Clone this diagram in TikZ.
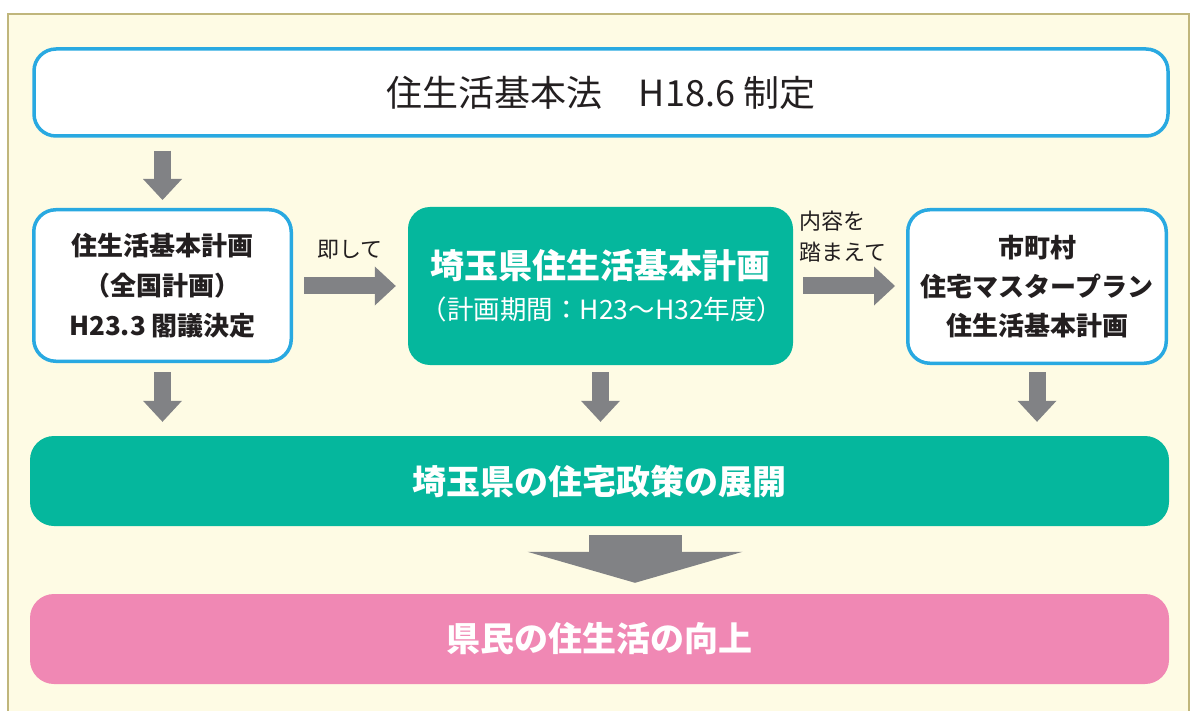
\documentclass[tikz,border=0pt]{standalone}
\usepackage{fontspec}
\setmainfont{Noto Sans CJK JP}
\usetikzlibrary{arrows.meta}
\definecolor{bluel}{HTML}{29A9E1}
\definecolor{teal}{HTML}{05B79D}
\definecolor{pinkb}{HTML}{F088B4}
\definecolor{agrey}{HTML}{818285}
\definecolor{bgc}{HTML}{FEFBE4}
\definecolor{framec}{HTML}{C0B67C}
\definecolor{txt}{HTML}{231F20}
\begin{document}
\begin{tikzpicture}[x=1pt,y=-1pt,
  wbox/.style={draw=bluel, line width=3.5pt, fill=white, rounded corners=22pt, inner sep=0pt, text=txt, align=center},
  fbox/.style={draw=none, rounded corners=24pt, inner sep=0pt, text=white, align=center},
  garrow/.style={draw=agrey, line width=17pt, -{Triangle[width=39pt,length=21pt,line width=0pt,fill=agrey]}},
  bigarrow/.style={draw=agrey, line width=93pt, -{Triangle[width=215pt,length=31pt,line width=0pt,fill=agrey]}},
  lbl/.style={inner sep=0pt, text=txt, font=\fontsize{22}{31}\selectfont}
]
\useasboundingbox (0,0) rectangle (1191,711);
\fill[white] (0,0) rectangle (1191,711);
\begin{scope}
\clip (0,0) rectangle (1191,711);
\draw[framec, line width=2pt, fill=bgc] (8,14) rectangle (1189,740);
\end{scope}

\node[wbox, minimum width=1134pt, minimum height=87pt, font=\fontsize{36}{40}\selectfont] (law) at (601,92.5) {住生活基本法　H18.6 制定};

\node[wbox, minimum width=257.5pt, minimum height=151.5pt, font=\bfseries\fontsize{26}{40}\selectfont] (national) at (162.5,285.5) {住生活基本計画\\（全国計画）\\H23.3 閣議決定};

\node[fbox, fill=teal, rounded corners=22pt, minimum width=385pt, minimum height=158pt] (plan) at (600.5,286) {};
\node[inner sep=0pt, text=white, font=\bfseries\fontsize{34}{40}\selectfont] (plantitle) at (600.5,266) {埼玉県住生活基本計画};
\node[inner sep=0pt, text=white, font=\fontsize{26.5}{30}\selectfont] (planterm) at (602,309) {（計画期間：H23〜H32年度）};

\node[wbox, minimum width=258.5pt, minimum height=153.5pt, font=\bfseries\fontsize{26}{39}\selectfont] (city) at (1037,286.5) {市町村\\住宅マスタープラン\\住生活基本計画};

\node[fbox, fill=teal, minimum width=1139pt, minimum height=90pt, font=\bfseries\fontsize{34}{40}\selectfont] (policy) at (599.5,481) {埼玉県の住宅政策の展開};

\node[fbox, fill=pinkb, minimum width=1139pt, minimum height=90pt, font=\bfseries\fontsize{34}{40}\selectfont] (life) at (599.5,639) {県民の住生活の向上};

\node[lbl] (sokushite) at (350,250) {即して};
\node[lbl, anchor=west, align=left] (fumaete) at (799,237) {内容を\\踏まえて};

% arrows
\draw[garrow, shorten <=13pt, shorten >=8pt] (law.south -| national.north) -- (national.north);
\draw[garrow, shorten <=11pt, shorten >=12pt] (national.east |- plan.west) -- (plan.west);
\draw[garrow, shorten <=10pt, shorten >=11pt] (plan.east) -- (city.west |- plan.east);
\draw[garrow, shorten <=9pt, shorten >=14pt] (national.south) -- (national.south |- policy.north);
\draw[garrow, shorten <=7pt, shorten >=14pt] (plan.south) -- (plan.south |- policy.north);
\draw[garrow, shorten <=7pt, shorten >=14pt] (city.south) -- (city.south |- policy.north);
\coordinate (bigx) at (635,0);
\draw[bigarrow, shorten <=9pt, shorten >=11pt] (policy.south -| bigx) -- (life.north -| bigx);
\end{tikzpicture}
\end{document}
